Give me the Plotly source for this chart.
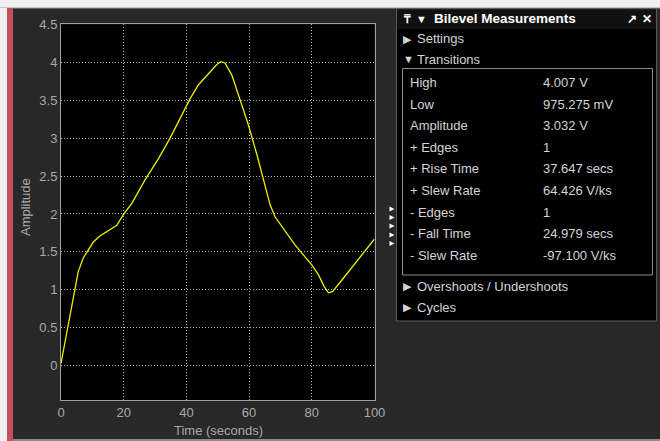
import plotly.graph_objects as go

# Signal trace
time_s = [0.0, 2.9, 5.5, 7.1, 10.3, 12.4, 15.6, 17.8, 19.9, 22.6, 26.8, 31.1, 34.8,
          38.5, 41.2, 43.8, 47.0, 49.7, 51.0, 52.3, 54.5, 57.1, 59.8, 62.5, 65.1,
          66.7, 68.3, 71.5, 74.7, 77.3, 80.0, 82.1, 84.0, 85.3, 86.6, 89.6, 93.8, 100.0]
amplitude = [0.03, 0.67, 1.24, 1.42, 1.63, 1.71, 1.79, 1.85, 1.99, 2.14, 2.45, 2.73, 3.00,
             3.30, 3.52, 3.70, 3.85, 3.97, 4.007, 3.99, 3.83, 3.52, 3.17, 2.78, 2.38,
             2.12, 1.96, 1.77, 1.59, 1.46, 1.33, 1.20, 1.04, 0.96, 0.975, 1.13, 1.35, 1.67]

x_ticks = [0, 20, 40, 60, 80, 100]
y_ticks = [0, 0.5, 1, 1.5, 2, 2.5, 3, 3.5, 4, 4.5]

# Measurement panel contents
meas_names = ["High", "Low", "Amplitude", "+ Edges", "+ Rise Time", "+ Slew Rate",
              "- Edges", "- Fall Time", "- Slew Rate"]
meas_values = ["4.007 V", "975.275 mV", "3.032 V", "1", "37.647 secs", "64.426 V/ks",
               "1", "24.979 secs", "-97.100 V/ks"]

W, H = 660, 441
FONT = "Liberation Sans, Arial, sans-serif"
BG = "#282828"
AXIS_TXT = "#a8a8a8"
PANEL_TXT = "#d4d4d4"


def px(x):
    return x / W


def py(y):
    return 1 - y / H


fig = go.Figure()
fig.add_trace(go.Scatter(x=time_s, y=amplitude, mode="lines",
                         line=dict(color="#eeee00", width=1.3),
                         hoverinfo="skip", showlegend=False))

shapes = []
# window chrome: top strip, left strip, red side bar, bottom line
shapes.append(dict(type="rect", xref="paper", yref="paper", x0=0, x1=1, y0=py(8), y1=1,
                   fillcolor="#f0f0f0", line_width=0, layer="above"))
shapes.append(dict(type="line", xref="paper", yref="paper", x0=0, x1=1, y0=py(8), y1=py(8),
                   line=dict(color="#9a9a9a", width=1), layer="above"))
shapes.append(dict(type="rect", xref="paper", yref="paper", x0=0, x1=px(7), y0=0, y1=py(8),
                   fillcolor="#f0f0f0", line_width=0, layer="above"))
shapes.append(dict(type="rect", xref="paper", yref="paper", x0=px(7), x1=px(13), y0=0, y1=py(8),
                   fillcolor="#c0505c", line_width=0, layer="above"))
shapes.append(dict(type="rect", xref="paper", yref="paper", x0=px(13), x1=1, y0=0, y1=py(439),
                   fillcolor="#8a8a8a", line_width=0, layer="above"))

# measurement panel
shapes.append(dict(type="rect", xref="paper", yref="paper", x0=px(396.5), x1=px(656.5),
                   y0=py(321), y1=py(9), fillcolor="#000000",
                   line=dict(color="#5a5a5a", width=1), layer="above"))
shapes.append(dict(type="rect", xref="paper", yref="paper", x0=px(397), x1=px(656),
                   y0=py(29), y1=py(9.5), fillcolor="#111111", line_width=0, layer="above"))
shapes.append(dict(type="rect", xref="paper", yref="paper", x0=px(402.5), x1=px(652.5),
                   y0=py(275), y1=py(68.5), fillcolor="rgba(0,0,0,0)",
                   line=dict(color="#8a8a8a", width=1), layer="above"))

# small arrow markers beside the panel
for ty in [209, 217.5, 226, 235, 243.5]:
    x0, x1 = px(389.5), px(394.5)
    shapes.append(dict(type="path", xref="paper", yref="paper",
                       path=f"M {x0},{py(ty - 2.5)} L {x1},{py(ty)} L {x0},{py(ty + 2.5)} Z",
                       fillcolor="#ffffff", line_width=0, layer="above"))

annotations = []


def text(x, y, s, size=13, color=PANEL_TXT, bold=False, anchor="left"):
    annotations.append(dict(x=px(x), y=py(y), xref="paper", yref="paper", text=s,
                            showarrow=False, xanchor=anchor, yanchor="middle",
                            font=dict(family=FONT, size=size, color=color,
                                      weight="bold" if bold else "normal")))


# axis titles
text(218, 430, "Time (seconds)", color=AXIS_TXT, anchor="center")
annotations.append(dict(x=px(25), y=py(207), xref="paper", yref="paper", text="Amplitude",
                        showarrow=False, textangle=-90, xanchor="center", yanchor="middle",
                        font=dict(family=FONT, size=13, color=AXIS_TXT)))

# panel header
text(401, 19, "₸", size=12, color="#ffffff", bold=True)
text(414, 19, "▼", size=11, color="#ffffff")
text(432, 19, "Bilevel Measurements", size=13.5, color="#ffffff", bold=True)
text(625, 19, "↗", size=12, color="#ffffff", bold=True)
text(640, 18.5, "✕", size=12, color="#ffffff", bold=True)

# section headings
text(400.5, 38.5, "▶", size=11, color=PANEL_TXT)
text(415, 39, "Settings")
text(400.5, 59, "▼", size=11, color=PANEL_TXT)
text(415, 59.5, "Transitions")
text(400.5, 286, "▶", size=11, color=PANEL_TXT)
text(415, 286.5, "Overshoots / Undershoots")
text(400.5, 307, "▶", size=11, color=PANEL_TXT)
text(415, 307.5, "Cycles")

for i, (n, v) in enumerate(zip(meas_names, meas_values)):
    yy = 82.5 + i * 21.6
    text(407.5, yy, n)
    text(541, yy, v)

axis_common = dict(showline=True, linecolor="#a0a0a0", linewidth=1, mirror=True,
                   showgrid=True, gridcolor="#b8b8b8", griddash="1px,2px", gridwidth=1,
                   zeroline=False, ticks="", automargin=False,
                   tickfont=dict(family=FONT, size=13, color=AXIS_TXT))

fig.update_layout(
    width=W, height=H,
    margin=dict(l=0, r=0, t=0, b=0, autoexpand=False),
    paper_bgcolor=BG, plot_bgcolor="#000000",
    xaxis=dict(domain=[px(61), px(374.5)], range=[0, 100], tickvals=x_ticks, **axis_common),
    yaxis=dict(domain=[py(400), py(24.3)], range=[-0.452, 4.5], tickvals=y_ticks,
               **axis_common),
    shapes=shapes, annotations=annotations,
)

fig.write_html("out.html")
